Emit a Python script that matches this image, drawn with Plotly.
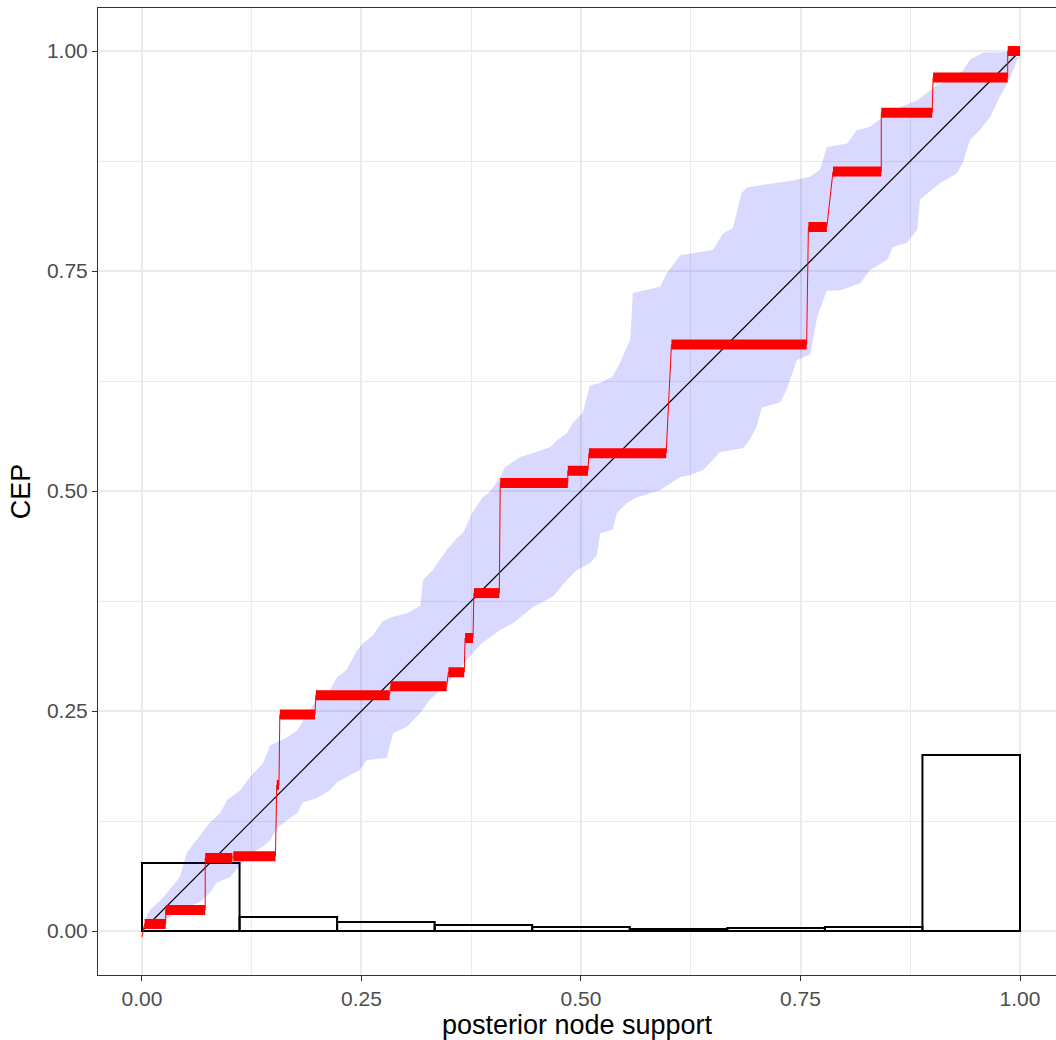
import plotly.graph_objects as go

# ---------------- data ----------------
# histogram of posterior node support (9 bins on [0,1])
hist_heights = [0.0773, 0.0159, 0.0102, 0.0068, 0.0045, 0.0023, 0.0034, 0.0045, 0.2000]
n_bins = len(hist_heights)

# credible ribbon - upper edge
ribbon_up_x = [0.000, 0.006, 0.009, 0.024, 0.043, 0.051, 0.068, 0.077, 0.089, 0.097, 0.112, 0.123,
               0.138, 0.146, 0.165, 0.177, 0.186, 0.199, 0.214, 0.222, 0.233, 0.245, 0.252, 0.263,
               0.274, 0.286, 0.302, 0.317, 0.320, 0.331, 0.347, 0.359, 0.366, 0.376, 0.388, 0.396,
               0.408, 0.413, 0.431, 0.445, 0.465, 0.473, 0.484, 0.491, 0.502, 0.510, 0.522, 0.536,
               0.544, 0.556, 0.559, 0.590, 0.598, 0.613, 0.650, 0.662, 0.673, 0.683, 0.689, 0.741,
               0.761, 0.772, 0.780, 0.803, 0.814, 0.829, 0.844, 0.863, 0.883, 0.894, 0.905, 0.920,
               0.935, 0.943, 0.958, 0.985, 0.997, 1.000]
ribbon_up_y = [0.000, 0.018, 0.024, 0.038, 0.061, 0.089, 0.111, 0.123, 0.134, 0.149, 0.160, 0.175,
               0.191, 0.211, 0.220, 0.228, 0.243, 0.263, 0.274, 0.288, 0.297, 0.319, 0.327, 0.336,
               0.352, 0.357, 0.361, 0.370, 0.399, 0.410, 0.433, 0.447, 0.453, 0.475, 0.493, 0.499,
               0.516, 0.527, 0.539, 0.543, 0.550, 0.558, 0.566, 0.578, 0.589, 0.620, 0.623, 0.630,
               0.645, 0.672, 0.725, 0.732, 0.748, 0.768, 0.774, 0.793, 0.799, 0.839, 0.845, 0.853,
               0.857, 0.865, 0.891, 0.895, 0.910, 0.914, 0.925, 0.936, 0.944, 0.952, 0.961, 0.967,
               0.978, 0.990, 0.998, 0.999, 0.993, 0.995]

# credible ribbon - lower edge
ribbon_lo_x = [0.000, 0.006, 0.028, 0.043, 0.066, 0.077, 0.085, 0.100, 0.112, 0.126, 0.138, 0.146,
               0.154, 0.165, 0.177, 0.183, 0.199, 0.214, 0.222, 0.248, 0.256, 0.279, 0.286, 0.302,
               0.317, 0.328, 0.347, 0.370, 0.387, 0.408, 0.423, 0.445, 0.468, 0.484, 0.495, 0.510,
               0.518, 0.522, 0.536, 0.541, 0.552, 0.564, 0.590, 0.613, 0.624, 0.639, 0.650, 0.658,
               0.685, 0.692, 0.700, 0.706, 0.727, 0.735, 0.741, 0.746, 0.761, 0.769, 0.780, 0.795,
               0.818, 0.829, 0.849, 0.855, 0.871, 0.883, 0.886, 0.909, 0.928, 0.935, 0.943, 0.954,
               0.966, 0.977, 0.989, 0.997, 1.000]
ribbon_lo_y = [0.000, 0.005, 0.013, 0.024, 0.033, 0.043, 0.055, 0.061, 0.075, 0.089, 0.096, 0.103,
               0.117, 0.126, 0.134, 0.146, 0.151, 0.160, 0.169, 0.183, 0.194, 0.197, 0.225, 0.232,
               0.248, 0.263, 0.280, 0.308, 0.327, 0.342, 0.350, 0.368, 0.380, 0.399, 0.410, 0.418,
               0.427, 0.452, 0.456, 0.475, 0.486, 0.493, 0.501, 0.516, 0.518, 0.524, 0.535, 0.544,
               0.549, 0.558, 0.573, 0.595, 0.601, 0.617, 0.634, 0.649, 0.655, 0.698, 0.728, 0.728,
               0.736, 0.751, 0.763, 0.777, 0.782, 0.797, 0.831, 0.850, 0.861, 0.873, 0.899, 0.910,
               0.925, 0.948, 0.970, 0.990, 0.995]

# observed CEP step levels
step_x_start = [0.003, 0.027, 0.072, 0.104, 0.1535, 0.157, 0.198, 0.283, 0.349, 0.368, 0.378, 0.408,
                0.485, 0.509, 0.603, 0.759, 0.787, 0.842, 0.901, 0.986]
step_x_end = [0.027, 0.072, 0.103, 0.152, 0.1560, 0.197, 0.282, 0.347, 0.367, 0.377, 0.407, 0.485,
              0.508, 0.597, 0.757, 0.780, 0.842, 0.900, 0.986, 1.000]
step_y = [0.008, 0.024, 0.083, 0.085, 0.166, 0.246, 0.268, 0.278, 0.294, 0.333, 0.384, 0.509,
          0.523, 0.543, 0.6665, 0.800, 0.863, 0.930, 0.970, 1.000]
step_origin = (0.0, -0.007)

x_ticks = [0.0, 0.25, 0.5, 0.75, 1.0]
y_ticks = [0.0, 0.25, 0.5, 0.75, 1.0]
tick_text = ["0.00", "0.25", "0.50", "0.75", "1.00"]

# ---------------- figure ----------------
fig = go.Figure()

# histogram
bw = 1.0 / n_bins
fig.add_trace(go.Bar(
    x=[(i + 0.5) * bw for i in range(n_bins)], y=hist_heights, width=bw, base=0,
    marker=dict(color="rgba(0,0,0,0)", line=dict(color="black", width=2)),
    hoverinfo="skip", showlegend=False))

# ribbon polygon
poly_x = ribbon_up_x + ribbon_lo_x[::-1]
poly_y = ribbon_up_y + ribbon_lo_y[::-1]
fig.add_trace(go.Scatter(
    x=poly_x, y=poly_y, mode="lines", fill="toself",
    fillcolor="rgba(0,0,255,0.15)", line=dict(width=0, color="rgba(0,0,0,0)"),
    hoverinfo="skip", showlegend=False))

# diagonal
fig.add_trace(go.Scatter(x=[0, 1], y=[0, 1], mode="lines",
                         line=dict(color="black", width=1.2), showlegend=False))

# thin red connecting line
thin_x = [step_origin[0]]
thin_y = [step_origin[1]]
for xs, xe, yv in zip(step_x_start, step_x_end, step_y):
    thin_x += [xs, xe]
    thin_y += [yv, yv]
fig.add_trace(go.Scatter(x=thin_x, y=thin_y, mode="lines",
                         line=dict(color="red", width=1), showlegend=False))

# thick red level segments
thick_x, thick_y = [], []
for xs, xe, yv in zip(step_x_start, step_x_end, step_y):
    thick_x += [xs, xe, None]
    thick_y += [yv, yv, None]
fig.add_trace(go.Scatter(x=thick_x, y=thick_y, mode="lines",
                         line=dict(color="red", width=10), showlegend=False))

axis_common = dict(
    showgrid=True, gridcolor="#EBEBEB", gridwidth=2,
    zeroline=False, showline=True, linecolor="#333333", linewidth=1,
    ticks="outside", ticklen=5, tickwidth=1, tickcolor="#333333",
    tickfont=dict(family="Liberation Sans", size=21, color="#4D4D4D"),
    automargin=False,
)

fig.update_layout(
    width=1056, height=1040,
    margin=dict(l=98, r=0, t=8, b=65),
    paper_bgcolor="white", plot_bgcolor="white",
    showlegend=False,
    xaxis=dict(
        range=[-0.0501, 1.0410], tickvals=x_ticks, ticktext=tick_text,
        mirror=True,
        minor=dict(tick0=0.125, dtick=0.25, showgrid=True, gridcolor="#EBEBEB", gridwidth=1, ticks=""),
        title=dict(text="posterior node support",
                   font=dict(family="Liberation Sans", size=27, color="black"), standoff=4),
        **axis_common),
    yaxis=dict(
        range=[-0.05, 1.0489], tickvals=y_ticks, ticktext=tick_text,
        minor=dict(tick0=0.125, dtick=0.25, showgrid=True, gridcolor="#EBEBEB", gridwidth=1, ticks=""),
        title=dict(text="CEP",
                   font=dict(family="Liberation Sans", size=27, color="black"), standoff=8),
        **axis_common),
)

fig.write_html("out.html")
